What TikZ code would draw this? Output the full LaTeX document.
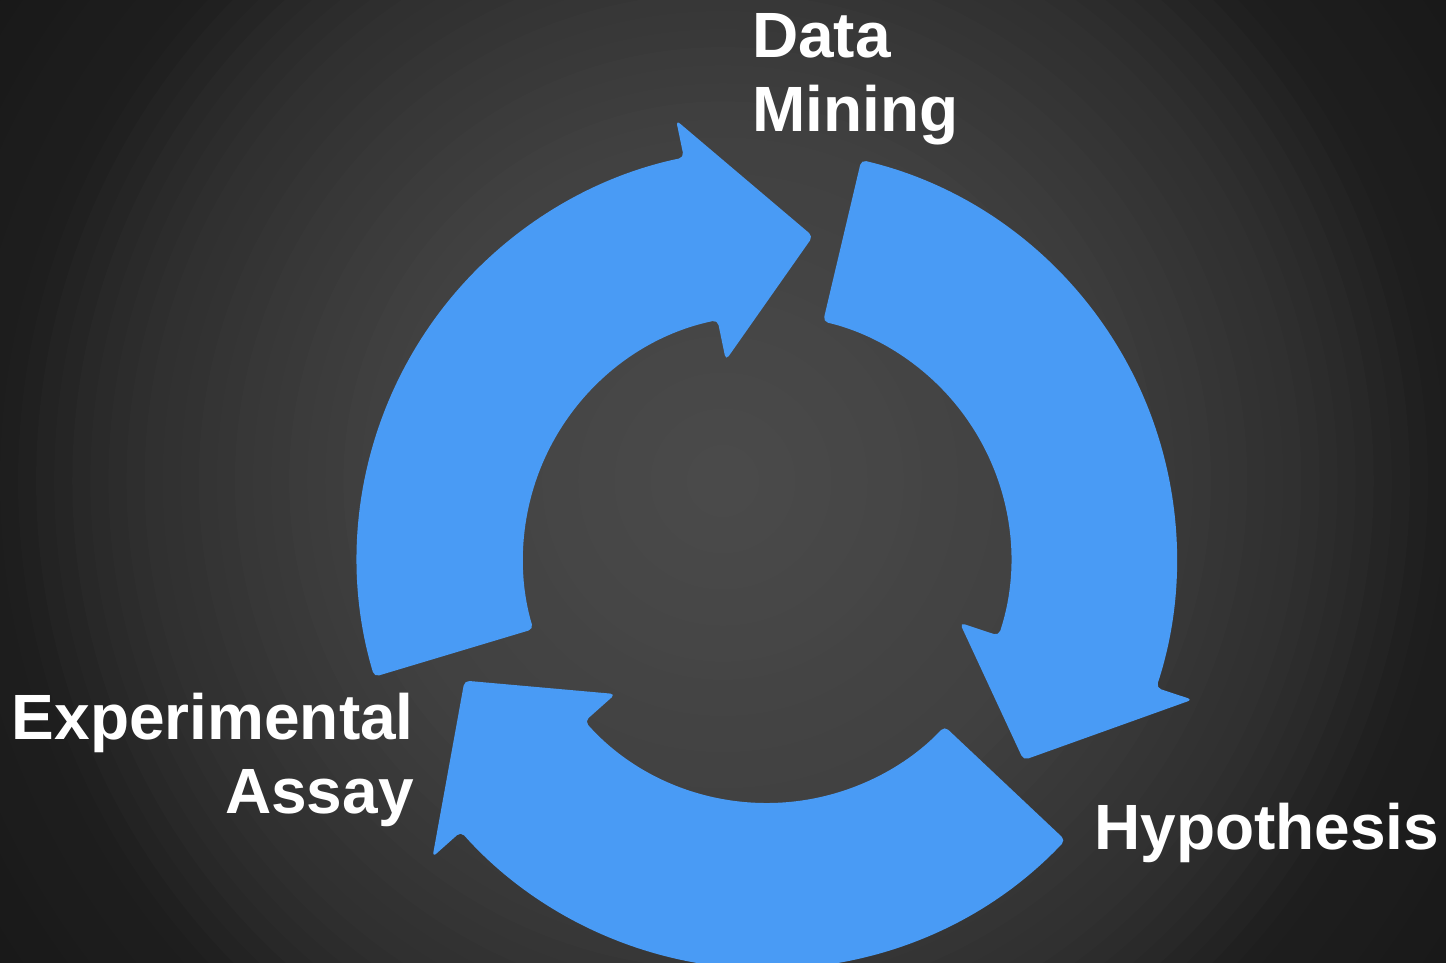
\documentclass[tikz,border=0pt]{standalone}
\usepackage{fontspec}
\setmainfont{Liberation Sans}
\definecolor{arrowblue}{RGB}{73,155,245}
\begin{document}
\begin{tikzpicture}[x=1pt,y=-1pt,
  cyclearrow/.style={fill=arrowblue, rounded corners=5pt},
  labeltext/.style={text=white, font=\fontsize{64}{74}\selectfont\bfseries, inner sep=0pt}]
\begin{scope}
  \clip (0,0) rectangle (1446,963);
  \foreach \i in {0,...,50} {
    \pgfmathsetmacro{\d}{1.25-\i*0.025}
    \pgfmathsetmacro{\g}{\d>1 ? 30-(\d-1)/0.414*10 : (\d>0.83 ? 46-(\d-0.83)/0.17*16 : (\d>0.5 ? 64-(\d-0.5)/0.33*18 : 75-\d/0.5*11))}
    \pgfmathsetmacro{\gg}{max(0,min(255,\g))/255}
    \definecolor{bgtmp}{gray}{\gg}
    \fill[bgtmp] (723,481) circle [radius={723*\d}];
  }
\end{scope}
\useasboundingbox (0,0) rectangle (1446,963);
\begin{scope}[shift={(767,559)}, yscale=-1]
  \foreach \t in {196.7,76.7,-43.3} {
    \pgfmathsetmacro{\base}{\t-95}
    \pgfmathsetmacro{\tip}{\t-114.8}
    \fill[cyclearrow] (\t:410) arc[start angle=\t, end angle=\base, radius=410]
      -- (\base:448) -- (\tip:326) -- (\base:203) -- (\base:244)
      arc[start angle=\base, end angle=\t, radius=244] -- cycle;
  }
\end{scope}
\node[labeltext, anchor=north west, align=left] (datamining) at (752,13) {Data\\Mining};
\node[labeltext, anchor=north east, align=right] (assay) at (414,693) {Experimental\\Assay};
\node[labeltext, anchor=base west] (hypothesis) at (1094,849) {Hypothesis};
\end{tikzpicture}
\end{document}
